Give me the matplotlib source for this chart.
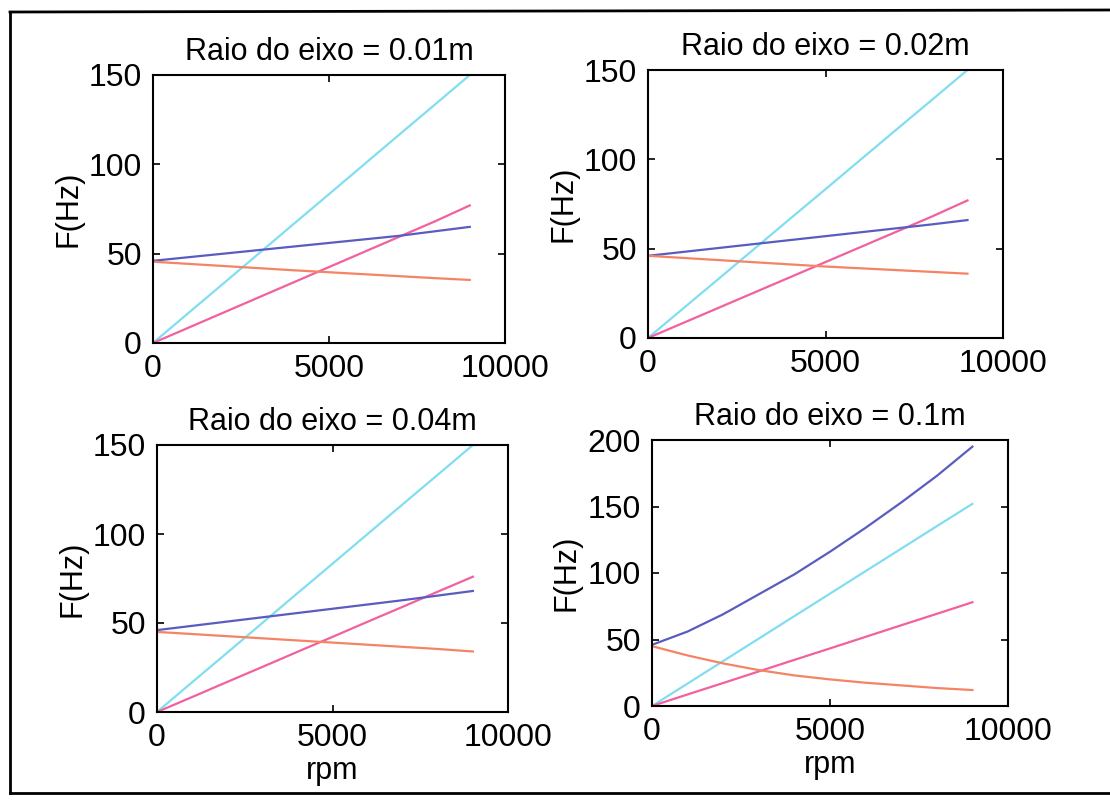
import numpy as np
import matplotlib
matplotlib.use("Agg")
import matplotlib.pyplot as plt
from matplotlib.lines import Line2D

plt.rcParams['font.family'] = ['Liberation Sans', 'DejaVu Sans']

# rotation speed (rpm) at which the frequencies were read
rpm = [0, 1000, 2000, 3000, 4000, 5000, 6000, 7000, 8000, 9000]

titles = ["Raio do eixo = 0.01m", "Raio do eixo = 0.02m",
          "Raio do eixo = 0.04m", "Raio do eixo = 0.1m"]

# forward whirl (blue)
blue_001 = [46, 48, 50, 52, 54, 56, 58, 60, 62.5, 65]
blue_002 = [46, 48.2, 50.4, 52.6, 54.8, 57, 59.2, 61.4, 63.6, 66]
blue_004 = [46, 48.4, 50.8, 53.2, 55.6, 58, 60.4, 62.8, 65.4, 68]
blue_01 = [46, 56, 69, 84, 99, 116, 134, 153, 173, 195]

# backward whirl (orange)
orange_001 = [45.5, 44.3, 43.1, 41.9, 40.7, 39.6, 38.5, 37.4, 36.3, 35.3]
orange_002 = [46, 44.8, 43.6, 42.4, 41.2, 40, 39, 38, 37, 36]
orange_004 = [45, 43.8, 42.6, 41.4, 40.2, 39, 37.8, 36.6, 35.4, 34]
orange_01 = [45, 38, 32, 27, 23, 20, 17.5, 15.5, 13.5, 12]

# excitation lines
cyan_a = [0, 16.7, 33.3, 50, 66.7, 83.3, 100, 116.7, 133.3, 150]
cyan_b = [0, 16.9, 33.8, 50.7, 67.6, 84.5, 101.4, 118.3, 135.2, 152]
pink_a = [0, 8.5, 17, 25.5, 34, 42.5, 51, 59.5, 68, 77]
pink_b = [0, 8.4, 16.9, 25.3, 33.8, 42.2, 50.7, 59.1, 67.6, 76]
pink_c = [0, 8.7, 17.3, 26, 34.7, 43.3, 52, 60.7, 69.3, 78]

blues = [blue_001, blue_002, blue_004, blue_01]
oranges = [orange_001, orange_002, orange_004, orange_01]
cyans = [cyan_a, cyan_a, cyan_a, cyan_b]
pinks = [pink_a, pink_a, pink_b, pink_c]
ymax = [150, 150, 150, 200]

W, H = 1110, 801
# axes boxes in pixels: left, right, top, bottom
boxes = [(153, 505, 75, 343), (648, 1003, 70, 338),
         (157, 508, 445, 712), (652, 1008, 440, 706)]

fig = plt.figure(figsize=(W / 100, H / 100), dpi=100)

for i in range(4):
    l, r, t, b = boxes[i]
    ax = fig.add_axes([l / W, 1 - b / H, (r - l) / W, (b - t) / H])
    ax.plot(rpm, cyans[i], color='#80def0', lw=1.6)
    ax.plot(rpm, pinks[i], color='#f2609e', lw=1.6)
    ax.plot(rpm, blues[i], color='#5a5cc0', lw=1.6)
    ax.plot(rpm, oranges[i], color='#f58466', lw=1.6)
    ax.set_xlim(0, 10000)
    ax.set_ylim(0, ymax[i])
    ax.set_xticks([0, 5000, 10000])
    ax.set_yticks(np.arange(0, ymax[i] + 1, 50))
    ax.tick_params(direction='in', top=True, right=True, labelsize=23,
                   length=5, width=1.2, pad=8)
    for s in ax.spines.values():
        s.set_linewidth(1.5)
    ax.set_title(titles[i], fontsize=22, pad=11)
    ax.set_ylabel("F(Hz)", fontsize=22, labelpad=4)
    if i >= 2:
        ax.set_xlabel("rpm", fontsize=22, labelpad=2)

# scanned page frame
fig.add_artist(Line2D([10 / W, 10 / W], [1 - 12 / H, 1 - 793 / H], color='k', lw=2))
fig.add_artist(Line2D([10 / W, 1.0], [1 - 12 / H, 1 - 10 / H], color='k', lw=2))
fig.add_artist(Line2D([10 / W, 1.0], [1 - 793 / H, 1 - 793 / H], color='k', lw=2))

fig.savefig("out.png", dpi=100)
